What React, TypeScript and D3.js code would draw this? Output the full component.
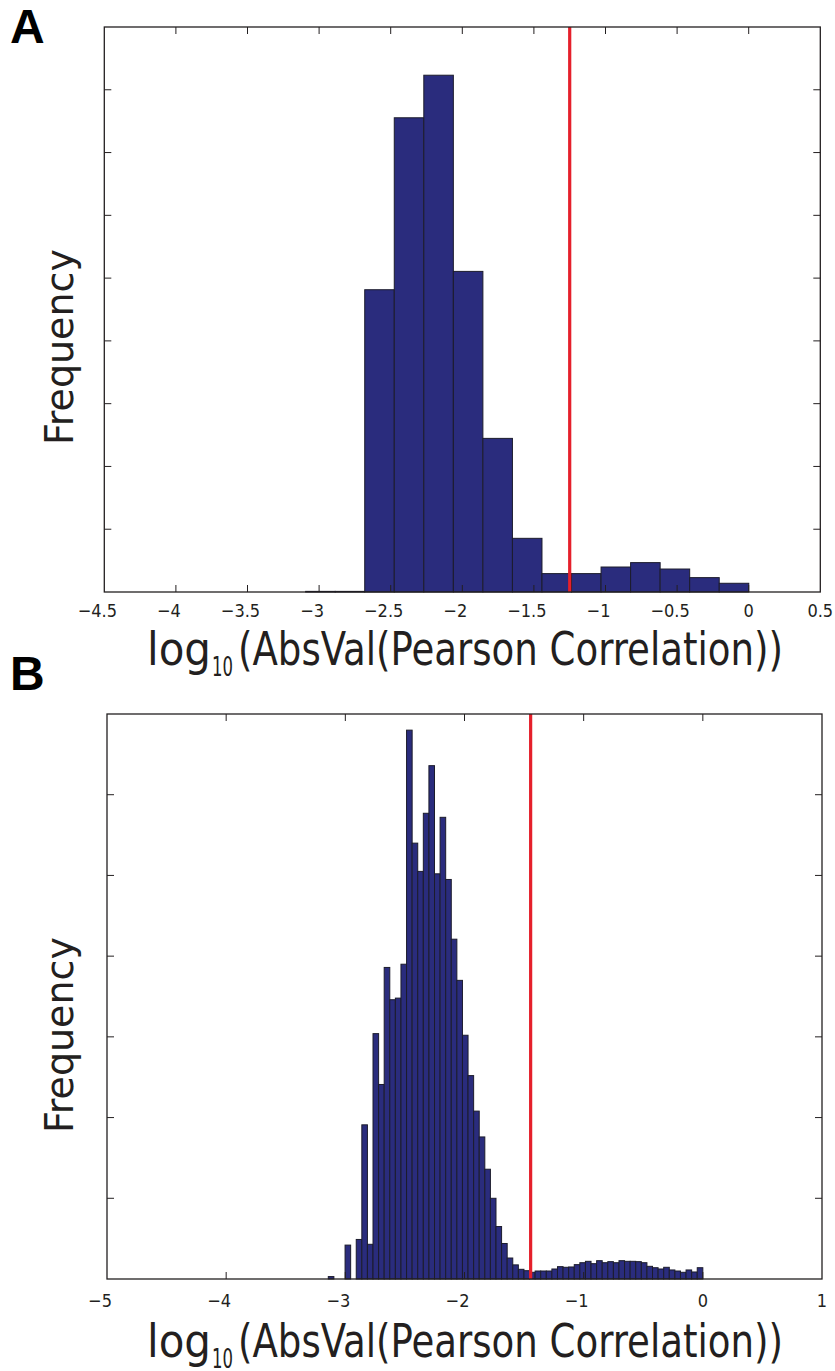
import React from "react";
import * as d3 from "d3";

// ---------- Panel A data ----------
const aXTicks = [-4.5, -4, -3.5, -3, -2.5, -2, -1.5, -1, -0.5, 0, 0.5];
const aBinStart = -3.094;
const aBinWidth = 0.2063;
const aCounts = [10, 10, 4815, 7554, 8232, 5107, 2447, 855, 293, 293, 398, 468, 366, 229, 139];
const aThreshold = -1.25;
const aYTicks = [0, 1000, 2000, 3000, 4000, 5000, 6000, 7000, 8000, 9000];

// ---------- Panel B data ----------
const bXTicks = [-5, -4, -3, -2, -1, 0, 1];
const bBinStart = -3.143;
const bBinWidth = 0.04691;
const bCounts = [
  3, 0, 0, 42, 0, 49, 191, 43, 304, 241,
  386, 346, 348, 390, 680, 540, 505, 577, 636, 502,
  572, 495, 421, 370, 302, 252, 208, 176, 136, 100,
  65, 44, 26, 17.5, 12, 10.3, 8.3, 9.9, 9.9, 9.9,
  12.4, 15.3, 14.5, 14.9, 17.8, 20.2, 21.9, 19.0, 22.7, 20.2,
  21.5, 20.2, 22.7, 21.9, 21.9, 21.5, 20.2, 15.7, 14.0, 12.4,
  14.5, 11.2, 9.9, 8.3, 11.2, 8.7, 14.0,
];
const bThreshold = -1.445;
const bYTicks = [0, 100, 200, 300, 400, 500, 600, 700];

const xTitle = "(AbsVal(Pearson Correlation))";
const yTitle = "Frequency";

const BAR_FILL = "#2a2c7d";
const BAR_STROKE = "#1c1c2c";
const AXIS = "#231f20";
const RED = "#e5202b";
const FONT = "'Liberation Sans Narrow', 'DejaVu Sans Condensed', 'Liberation Sans', Arial, sans-serif";

function fmt(v: number) {
  const s = String(Math.abs(v));
  return v < 0 ? "\u2212" + s : s;
}

type PanelProps = {
  left: number; right: number; top: number; bottom: number;
  xTicks: number[]; yTicks: number[];
  binStart: number; binWidth: number; counts: number[];
  threshold: number; letter: string; letterY: number;
  labelY: number; titleY: number; freqY: number;
};

function Panel(p: PanelProps) {
  const x = d3.scaleLinear().domain([p.xTicks[0], p.xTicks[p.xTicks.length - 1]]).range([p.left, p.right]);
  const y = d3.scaleLinear().domain([p.yTicks[0], p.yTicks[p.yTicks.length - 1]]).range([p.bottom, p.top]);
  const bins = p.counts.map((c, i) => ({
    x0: p.binStart + i * p.binWidth,
    x1: p.binStart + (i + 1) * p.binWidth,
    c,
  }));
  const tl = 7;
  return (
    <g>
      <text x={10} y={p.letterY} fontFamily="'Liberation Sans', Arial, sans-serif" fontWeight="bold" fontSize={48} fill="#000">{p.letter}</text>
      {bins.filter(b => b.c > 0).map((b, i) => (
        <rect key={i} x={x(b.x0)} y={y(b.c)} width={x(b.x1) - x(b.x0)} height={p.bottom - y(b.c)}
          fill={BAR_FILL} stroke={BAR_STROKE} strokeWidth={1} />
      ))}
      <line x1={x(p.threshold)} x2={x(p.threshold)} y1={p.top} y2={p.bottom} stroke={RED} strokeWidth={3.2} />
      <rect x={p.left} y={p.top} width={p.right - p.left} height={p.bottom - p.top} fill="none" stroke={AXIS} strokeWidth={1.3} />
      {p.xTicks.slice(1, -1).map((t, i) => (
        <g key={"xt" + i}>
          <line x1={x(t)} x2={x(t)} y1={p.bottom} y2={p.bottom - tl} stroke={AXIS} strokeWidth={1} />
          <line x1={x(t)} x2={x(t)} y1={p.top} y2={p.top + tl} stroke={AXIS} strokeWidth={1} />
        </g>
      ))}
      {p.yTicks.slice(1, -1).map((t, i) => (
        <g key={"yt" + i}>
          <line x1={p.left} x2={p.left + tl} y1={y(t)} y2={y(t)} stroke={AXIS} strokeWidth={1} />
          <line x1={p.right} x2={p.right - tl} y1={y(t)} y2={y(t)} stroke={AXIS} strokeWidth={1} />
        </g>
      ))}
      {p.xTicks.map((t, i) => (
        <text key={"xl" + i} x={x(t) - (t < 0 ? 7 : 0)} y={p.labelY} textAnchor="middle"
          fontFamily={FONT} fontSize={18} fill="#231f20">{fmt(t)}</text>
      ))}
      <text x={147} y={p.titleY} fontFamily={FONT} fontSize={46} fill="#231f20" textLength={64} lengthAdjust="spacingAndGlyphs">log</text>
      <text x={212} y={p.titleY + 11} fontFamily={FONT} fontSize={26} fill="#231f20" textLength={21} lengthAdjust="spacingAndGlyphs">10</text>
      <text x={238} y={p.titleY} fontFamily={FONT} fontSize={46} fill="#231f20" textLength={545} lengthAdjust="spacingAndGlyphs">{xTitle}</text>
      <text transform={`translate(73,${p.freqY}) rotate(-90)`} textAnchor="middle" fontFamily={FONT} fontSize={39}
        fill="#231f20" textLength={196} lengthAdjust="spacingAndGlyphs">{yTitle}</text>
    </g>
  );
}

export default function App() {
  return (
    <svg width={835} height={1371} style={{ position: "absolute", left: 0, top: 0, background: "#fff" }}>
      <rect width={835} height={1371} fill="#fff" />
      <Panel left={104.3} right={820.3} top={27} bottom={592} xTicks={aXTicks} yTicks={aYTicks}
        binStart={aBinStart} binWidth={aBinWidth} counts={aCounts} threshold={aThreshold}
        letter="A" letterY={43} labelY={617} titleY={665} freqY={347} />
      <Panel left={107} right={822} top={714} bottom={1279} xTicks={bXTicks} yTicks={bYTicks}
        binStart={bBinStart} binWidth={bBinWidth} counts={bCounts} threshold={bThreshold}
        letter="B" letterY={690} labelY={1307} titleY={1357} freqY={1035} />
    </svg>
  );
}
